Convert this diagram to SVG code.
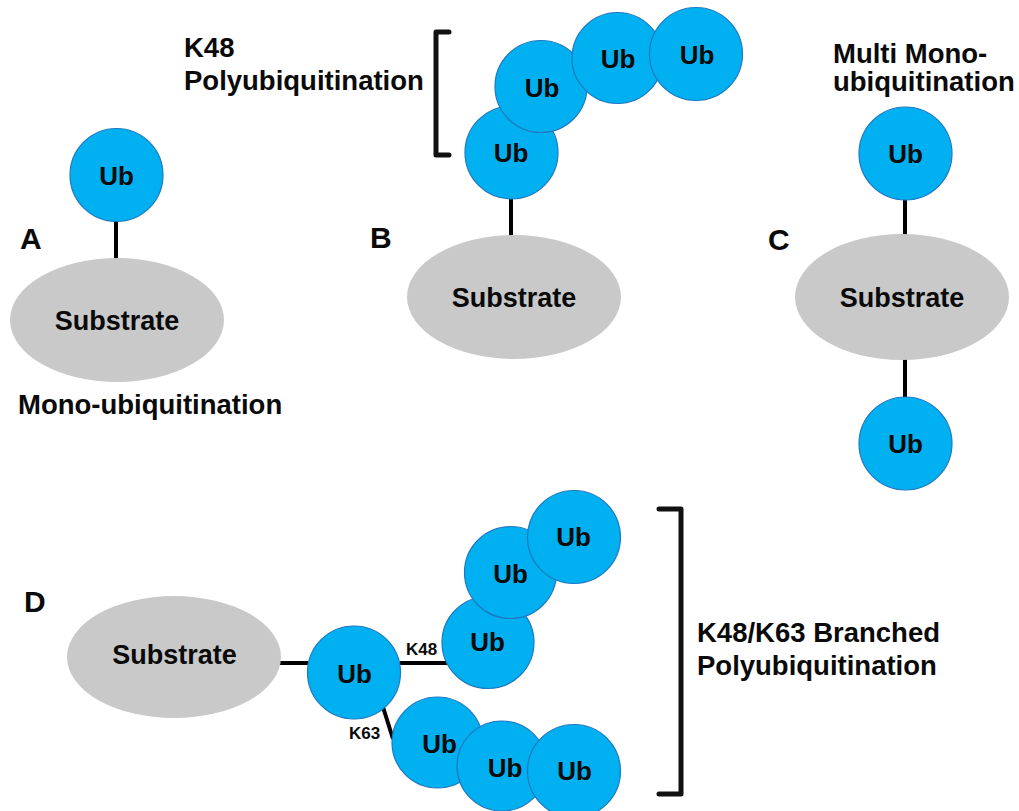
<svg xmlns="http://www.w3.org/2000/svg" width="1019" height="811" viewBox="0 0 1019 811">
  <style>
    .ub { fill: #00B0F0; stroke: #1F78C1; stroke-width: 1.2; }
    .sub { fill: #C9C9C9; stroke: none; }
    .link { stroke: #000; stroke-width: 4; fill: none; }
    .brk { stroke: #111; stroke-width: 5; fill: none; stroke-linejoin: round; stroke-linecap: round; }
    text { font-family: "Liberation Sans", Arial, sans-serif; font-weight: bold; fill: #0a0a0a; }
    .ubt { font-size: 26px; text-anchor: middle; }
    .subt { font-size: 27px; text-anchor: middle; }
    .lbl { font-size: 27.5px; }
    .pan { font-size: 30px; }
    .k { font-size: 17px; }
  </style>

  <!-- connectors -->
  <g id="connectors">
    <line class="link" x1="116" y1="219" x2="116" y2="259"/>
    <line class="link" x1="511" y1="197" x2="511" y2="236"/>
    <line class="link" x1="905" y1="198" x2="905" y2="236"/>
    <line class="link" x1="905" y1="358" x2="905" y2="399"/>
    <line class="link" x1="279" y1="663" x2="308" y2="663"/>
    <line class="link" x1="400" y1="663" x2="449" y2="663"/>
    <line class="link" x1="383" y1="707" x2="393" y2="739"/>
  </g>

  <!-- panel A: mono-ubiquitination -->
  <g id="panelA">
    <text class="pan" x="20" y="249">A</text>
    <g id="A-sub">
      <ellipse class="sub" cx="117" cy="320" rx="107" ry="62"/>
      <text class="subt" x="117" y="330">Substrate</text>
    </g>
    <g id="A-ub">
      <circle class="ub" cx="116.5" cy="175" r="46.5"/>
      <text class="ubt" x="116.5" y="185">Ub</text>
    </g>
    <text class="lbl" x="18" y="414">Mono-ubiquitination</text>
  </g>

  <!-- panel B: K48 chain -->
  <g id="panelB">
    <text class="pan" x="370" y="248">B</text>
    <text class="lbl" x="184" y="57">K48</text>
    <text class="lbl" x="184" y="90">Polyubiquitination</text>
    <path class="brk" d="M449,32 H436 V155 H449"/>
    <g id="B-sub">
      <ellipse class="sub" cx="514" cy="297" rx="107" ry="62"/>
      <text class="subt" x="514" y="307">Substrate</text>
    </g>
    <g id="B-ub1">
      <circle class="ub" cx="511.5" cy="152.5" r="46.5"/>
      <text class="ubt" x="511" y="162">Ub</text>
    </g>
    <g id="B-ub2">
      <circle class="ub" cx="541" cy="86.5" r="46"/>
      <text class="ubt" x="542" y="97">Ub</text>
    </g>
    <g id="B-ub3">
      <circle class="ub" cx="617.5" cy="58" r="45.5"/>
      <text class="ubt" x="618" y="68">Ub</text>
    </g>
    <g id="B-ub4">
      <circle class="ub" cx="696" cy="54" r="46.5"/>
      <text class="ubt" x="697" y="64">Ub</text>
    </g>
  </g>

  <!-- panel C: multi mono-ubiquitination -->
  <g id="panelC">
    <text class="pan" x="768" y="250">C</text>
    <text class="lbl" x="833" y="63">Multi Mono-</text>
    <text class="lbl" x="833" y="91">ubiquitination</text>
    <g id="C-sub">
      <ellipse class="sub" cx="902" cy="297" rx="107" ry="63"/>
      <text class="subt" x="902" y="307">Substrate</text>
    </g>
    <g id="C-ub1">
      <circle class="ub" cx="905.5" cy="153.5" r="46.5"/>
      <text class="ubt" x="905.5" y="163">Ub</text>
    </g>
    <g id="C-ub2">
      <circle class="ub" cx="905.5" cy="443.5" r="46.5"/>
      <text class="ubt" x="905.5" y="453">Ub</text>
    </g>
  </g>

  <!-- panel D: K48/K63 branched chain -->
  <g id="panelD">
    <text class="pan" x="24" y="612">D</text>
    <g id="D-sub">
      <ellipse class="sub" cx="174" cy="657" rx="107" ry="61"/>
      <text class="subt" x="174.5" y="664">Substrate</text>
    </g>
    <g id="D-ub0">
      <circle class="ub" cx="354" cy="672.5" r="46.5"/>
      <text class="ubt" x="354.5" y="683">Ub</text>
    </g>
    <text class="k" x="406" y="655">K48</text>
    <text class="k" x="349" y="739">K63</text>
    <g id="D-k48-ub1">
      <circle class="ub" cx="488" cy="642.5" r="46"/>
      <text class="ubt" x="487.5" y="651">Ub</text>
    </g>
    <g id="D-k48-ub2">
      <circle class="ub" cx="510.5" cy="572.5" r="46"/>
      <text class="ubt" x="510.5" y="583">Ub</text>
    </g>
    <g id="D-k48-ub3">
      <circle class="ub" cx="574" cy="537" r="46.5"/>
      <text class="ubt" x="573.5" y="546">Ub</text>
    </g>
    <g id="D-k63-ub1">
      <circle class="ub" cx="437.5" cy="742.5" r="45.5"/>
      <text class="ubt" x="439.5" y="753">Ub</text>
    </g>
    <g id="D-k63-ub2">
      <circle class="ub" cx="502" cy="766" r="45"/>
      <text class="ubt" x="505" y="777">Ub</text>
    </g>
    <g id="D-k63-ub3">
      <circle class="ub" cx="574" cy="771" r="46.5"/>
      <text class="ubt" x="574.5" y="780">Ub</text>
    </g>
    <path class="brk" d="M659,509 H681 V794 H659"/>
    <text class="lbl" x="697" y="642">K48/K63 Branched</text>
    <text class="lbl" x="697" y="675">Polyubiquitination</text>
  </g>
</svg>
